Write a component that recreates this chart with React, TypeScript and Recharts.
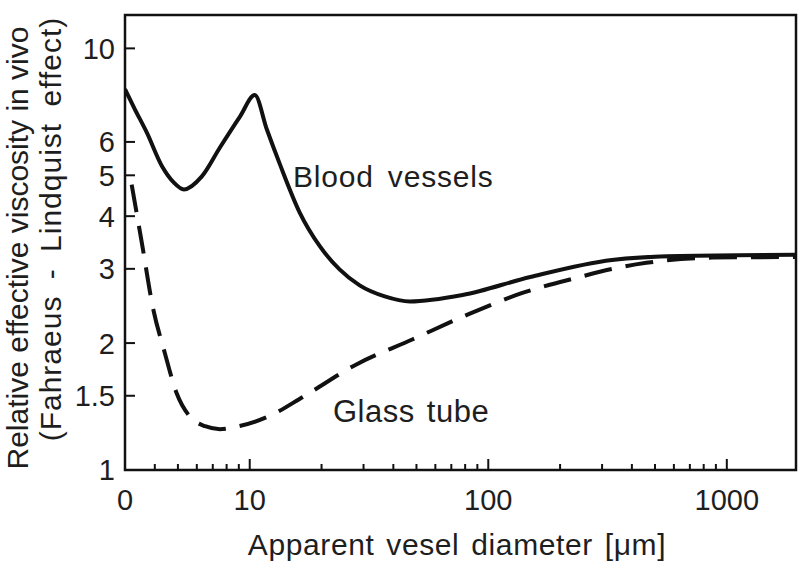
import { LineChart, Line, XAxis, YAxis, ReferenceArea } from "recharts";

// diameter in µm (log axis), relative viscosity (log axis)
const bloodDiameter = [
  3, 3.3, 3.7, 4.3, 4.8, 5.3, 6.3, 7.5, 9.1, 10.5, 11.8, 13.4, 16.2, 19.7, 23.8, 28.9, 36.8, 46.9, 78, 150, 330,
  635, 1950
];
const bloodViscosity = [
  8.0, 7.17, 6.32, 5.24, 4.81, 4.63, 4.97, 5.82, 6.89, 7.75, 6.42, 5.3, 4.08, 3.39, 2.99, 2.74, 2.58, 2.51, 2.6,
  2.87, 3.15, 3.22, 3.24
];

const glassDiameter = [3.2, 3.55, 3.92, 4.4, 4.94, 5.6, 6.5, 7.5, 9, 12, 16.7, 28, 48, 81, 139, 242, 332, 460, 870, 1950];
const glassViscosity = [4.75, 3.39, 2.44, 1.9, 1.52, 1.34, 1.27, 1.25, 1.27, 1.34, 1.49, 1.78, 2.04, 2.33, 2.63, 2.87, 3.0, 3.1, 3.19, 3.2];

const xMajorTicks = [3, 10, 100, 1000];
const xMajorLabels = ["0", "10", "100", "1000"];
const xMinorTicks = [4, 5, 6, 7, 8, 9, 20, 30, 40, 50, 60, 70, 80, 90, 200, 300, 400, 500, 600, 700, 800, 900];
const yTicks = [1, 1.5, 2, 3, 4, 5, 6, 10];

const bloodData = bloodDiameter.map((d, i) => ({ d, v: bloodViscosity[i] }));
const glassData = glassDiameter.map((d, i) => ({ d, v: glassViscosity[i] }));
const xTicks = [...xMajorTicks, ...xMinorTicks].sort((a, b) => a - b);

const ink = "#111";
const textInk = "#1e1e1e";
const font = "'Liberation Sans', Arial, sans-serif";

const renderXTick = (props: any) => {
  const { x, y, payload } = props;
  const idx = xMajorTicks.indexOf(payload.value);
  const len = idx > 0 ? 11 : idx === 0 ? 0 : 6;
  return (
    <g>
      {len > 0 && <line x1={x} x2={x} y1={y} y2={y - len} stroke={ink} strokeWidth={2} />}
      {idx >= 0 && (
        <text x={x} y={y + 40} textAnchor="middle" fontSize={29} fontFamily={font} fill={textInk}>
          {xMajorLabels[idx]}
        </text>
      )}
    </g>
  );
};

const renderYTick = (props: any) => {
  const { x, y, payload } = props;
  return (
    <g>
      <line x1={x} x2={x + 10} y1={y} y2={y} stroke={ink} strokeWidth={2} />
      <text x={x - 10} y={y} dy="0.36em" textAnchor="end" fontSize={29} fontFamily={font} fill={textInk}>
        {payload.value}
      </text>
    </g>
  );
};

export default function App() {
  return (
    <div style={{ position: "absolute", left: 0, top: 0, width: 800, height: 564, background: "#fff" }}>
      <LineChart width={800} height={564} margin={{ top: 15, right: 4, bottom: 34, left: 65 }}>
        <XAxis
          dataKey="d"
          type="number"
          scale="log"
          domain={[3, 1950]}
          allowDataOverflow
          ticks={xTicks}
          interval={0}
          tick={renderXTick}
          tickLine={false}
          axisLine={false}
          tickSize={0}
          tickMargin={0}
          height={60}
        />
        <YAxis
          type="number"
          scale="log"
          domain={[1, 12]}
          allowDataOverflow
          ticks={yTicks}
          interval={0}
          tick={renderYTick}
          tickLine={false}
          axisLine={false}
          tickSize={0}
          tickMargin={0}
          width={60}
        />
        <ReferenceArea x1={3} x2={1950} y1={1} y2={12} fill="none" stroke={ink} strokeWidth={2.5} />
        <Line
          data={glassData}
          dataKey="v"
          type="monotone"
          stroke={ink}
          strokeWidth={4}
          strokeDasharray="28 14"
          dot={false}
          isAnimationActive={false}
        />
        <Line
          data={bloodData}
          dataKey="v"
          type="monotone"
          stroke={ink}
          strokeWidth={4}
          dot={false}
          isAnimationActive={false}
        />
      </LineChart>
      <svg
        width={800}
        height={564}
        style={{ position: "absolute", left: 0, top: 0, pointerEvents: "none" }}
        fontFamily={font}
        fill={textInk}
      >
        <text x={457} y={555} textAnchor="middle" fontSize={30} style={{ wordSpacing: 3, letterSpacing: 0.6 }}>
          Apparent vesel diameter [μm]
        </text>
        <text transform="translate(28,248) rotate(-90)" textAnchor="middle" fontSize={30}>
          Relative effective viscosity in vivo
        </text>
        <text transform="translate(61,229) rotate(-90)" textAnchor="middle" fontSize={30} style={{ wordSpacing: 7, letterSpacing: 1 }}>
          (Fahraeus - Lindquist effect)
        </text>
        <text x={293} y={187} fontSize={30} style={{ wordSpacing: 5, letterSpacing: 0.8 }}>
          Blood vessels
        </text>
        <text x={333} y={422} fontSize={31} style={{ wordSpacing: 3, letterSpacing: 0.5 }}>
          Glass tube
        </text>
      </svg>
    </div>
  );
}
